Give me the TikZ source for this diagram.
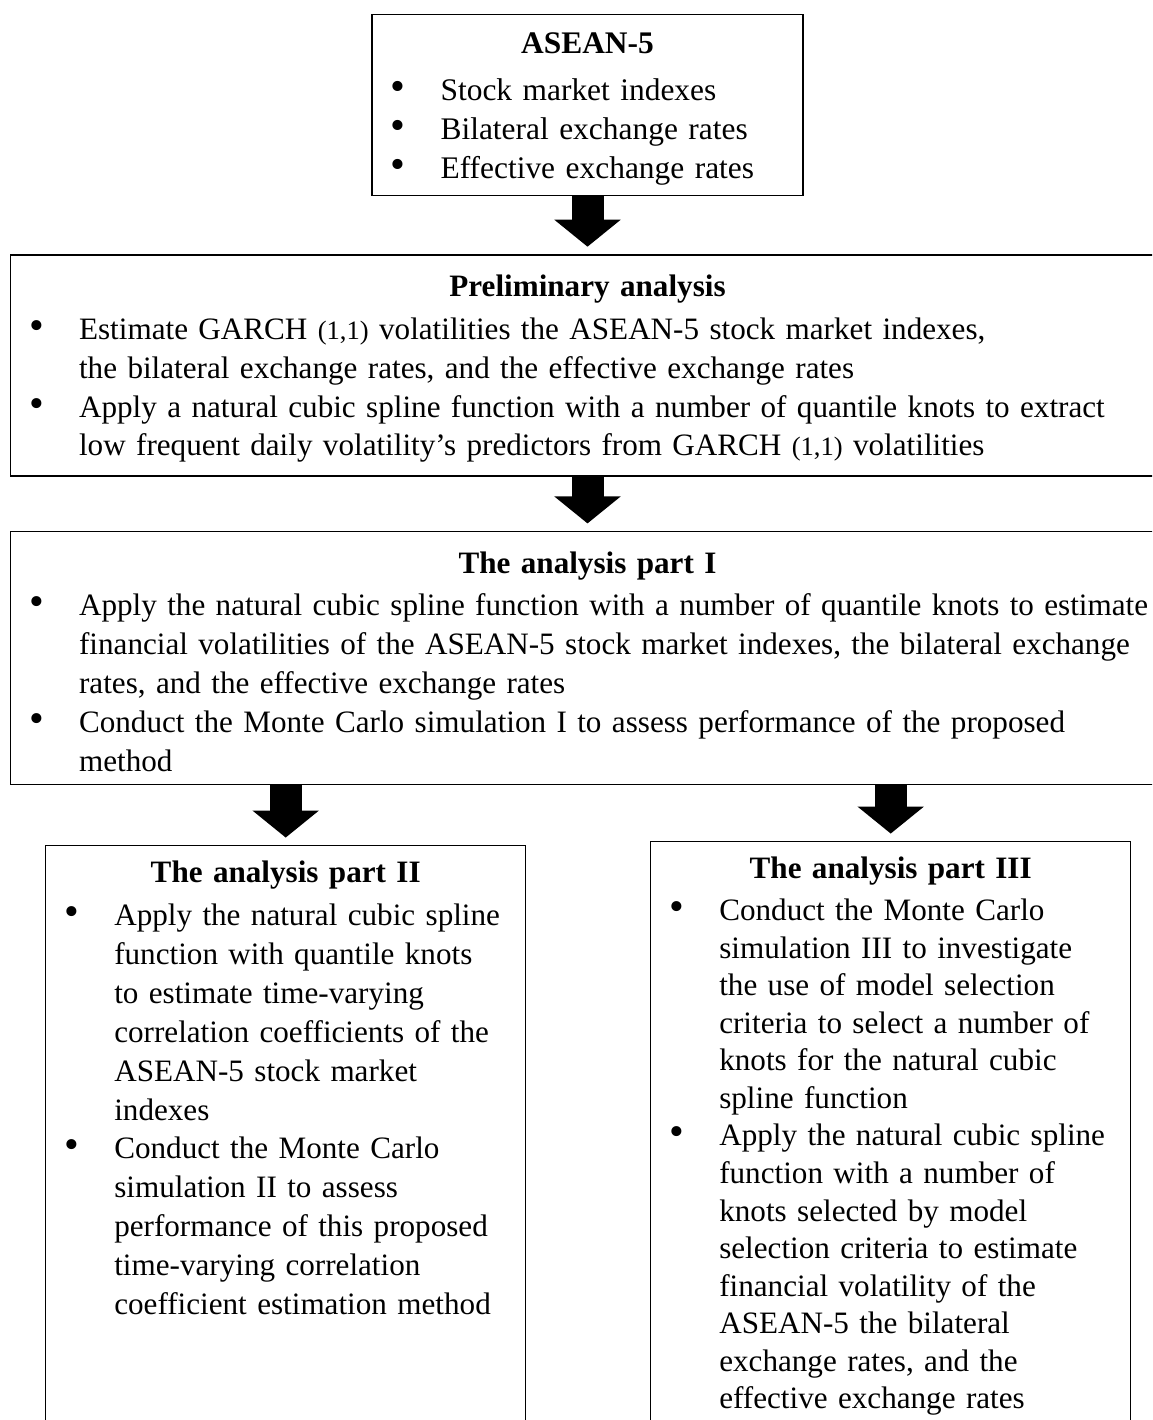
\documentclass[tikz,border=0pt]{standalone}
\usepackage{fontspec}
\setmainfont{Liberation Serif}
\usepackage{graphicx}
\usetikzlibrary{positioning, arrows.meta}
% bullet item with hanging indent, title line, small (1,1)
\newcommand{\itm}[1]{\par\hangindent=24pt\hangafter=1\noindent
  \makebox[24pt][l]{\hspace{6.5pt}\scalebox{1.35}{\textbullet}}#1}
\newcommand{\ttl}[1]{{\centering\bfseries\rule{0pt}{10pt}#1\par}\vspace{1.4pt}}
\newcommand{\gq}{{\fontsize{9.3}{13}\selectfont(1,1)}}

\begin{document}
\begin{tikzpicture}[x=0.35pt, y=-0.35pt]
  \tikzset{
    box/.style={rectangle, draw, line width=0.5pt, align=left, inner xsep=0pt,
      inner ysep=3pt, font=\fontsize{10.9}{13.6}\selectfont, text width=#1},
    bigarrow/.style={line width=11.2pt, -{Triangle[width=22.75pt, length=9.45pt]},
      shorten >=2.6pt},
  }
  \useasboundingbox (0,0) rectangle (1152,1420);
  \clip (0,0) rectangle (1152,1420);

  \node[box=150.85pt, minimum height=63.35pt, anchor=north,
        font=\fontsize{11}{13.8}\selectfont] (asean) at (587.5,14)
    {\ttl{ASEAN-5}\vspace{1.2pt}
     \itm{Stock market indexes}
     \itm{Bilateral exchange rates}
     \itm{Effective exchange rates}\par};
  \node[box=403.9pt, minimum height=77.35pt, below=20.2pt of asean] (prelim)
    {\ttl{Preliminary analysis}
     \itm{Estimate GARCH \gq{} volatilities the ASEAN-5 stock market indexes,\newline
       the bilateral exchange rates, and the effective exchange rates}
     \itm{\mbox{Apply a natural cubic spline function with a number of quantile knots to extract}\newline
       low frequent daily volatility's predictors from GARCH \gq{} volatilities}\par};
  \node[box=403.9pt, minimum height=88.55pt, below=19pt of prelim] (p1)
    {\ttl{The analysis part I}
     \itm{\mbox{Apply the natural cubic spline function with a number of quantile knots to estimate}\newline
       \mbox{financial volatilities of the ASEAN-5 stock market indexes, the bilateral exchange}\newline
       rates, and the effective exchange rates}
     \itm{Conduct the Monte Carlo simulation I to assess performance of the proposed\newline
       method}\par};
  \node[box=168pt, anchor=north west] (p2) at (45,845)
    {\ttl{The analysis part II}
     \itm{Apply the natural cubic spline\newline function with quantile knots\newline
       to estimate time-varying\newline correlation coefficients of the\newline
       ASEAN-5 stock market\newline indexes}
     \itm{Conduct the Monte Carlo\newline simulation II to assess\newline
       performance of this proposed\newline time-varying correlation\newline
       coefficient estimation method\rule[-70pt]{0pt}{0pt}}\par};
  \node[box=168pt, anchor=north west, font=\fontsize{10.9}{13.15}\selectfont] (p3) at (650,841)
    {\ttl{The analysis part III}
     \itm{Conduct the Monte Carlo\newline simulation III to investigate\newline
       the use of model selection\newline criteria to select a number of\newline
       knots for the natural cubic\newline spline function}
     \itm{Apply the natural cubic spline\newline function with a number of\newline
       knots selected by model\newline selection criteria to estimate\newline
       financial volatility of the\newline ASEAN-5 the bilateral\newline
       exchange rates, and the\newline effective exchange rates\rule[-20pt]{0pt}{0pt}}\par};

  \draw[bigarrow] (asean.south) -- (asean.south |- prelim.north);
  \draw[bigarrow] (asean.south |- prelim.south) -- (asean.south |- p1.north);
  \draw[bigarrow] (p1.south -| p2.north) -- (p2.north);
  \draw[bigarrow] (p1.south -| p3.north) -- (p3.north);
\end{tikzpicture}
\end{document}
